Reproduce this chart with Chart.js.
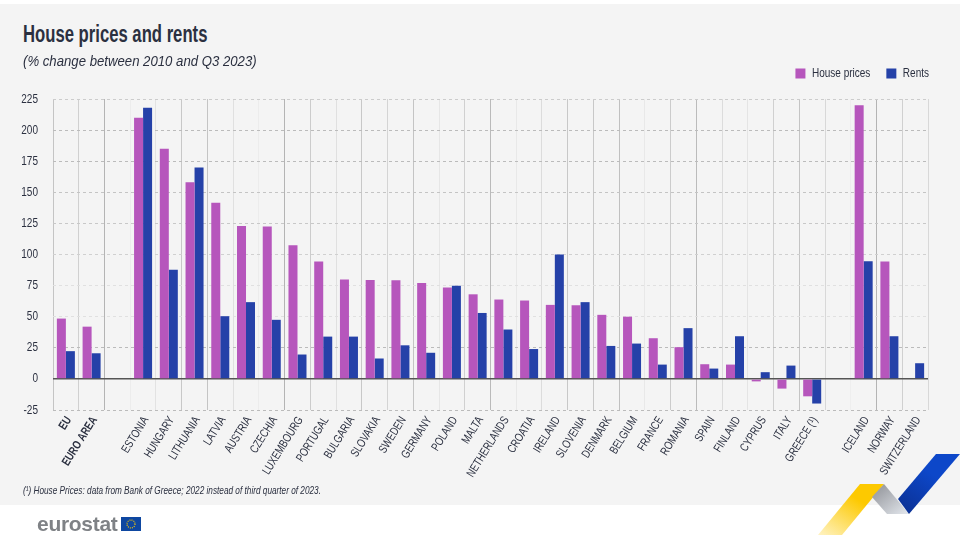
<!DOCTYPE html>
<html>
<head>
<meta charset="utf-8">
<style>
  html, body { margin: 0; padding: 0; background: #fff; }
  #page { position: relative; width: 973px; height: 535px; overflow: hidden; font-family: "Liberation Sans", sans-serif; color: #2b3040; }
  #panel { position: absolute; left: 0; top: 4px; width: 960px; height: 501px; background: #f4f4f4; }
  #chart-wrap { position: absolute; left: 0; top: 51px; width: 960px; height: 454px; }
  h1, #subtitle, #note { transform-origin: left center; white-space: nowrap; }
  h1 { position: absolute; left: 23px; top: 21px; margin: 0; font-size: 23px; font-weight: bold; transform: scaleX(0.725); }
  #subtitle { position: absolute; left: 23px; top: 52px; font-size: 15.5px; font-style: italic; transform: scaleX(0.85); }
  #note { position: absolute; left: 23px; top: 484px; font-size: 11.5px; font-style: italic; transform: scaleX(0.716); }
  #logo { position: absolute; left: 37px; top: 512px; font: bold 21px "Liberation Sans", sans-serif; color: #7f8286; letter-spacing: -0.3px; }
  #deco { position: absolute; left: 0; top: 0; }
</style>
</head>
<body>
<div id="page">
  <div id="panel"></div>
  <div id="chart-wrap"><canvas id="chart"></canvas></div>
  <h1>House prices and rents</h1>
  <div id="subtitle">(% change between 2010 and Q3 2023)</div>
  <div id="note">(¹) House Prices: data from Bank of Greece; 2022 instead of third quarter of 2023.</div>
  <div id="logo">eurostat</div>
  <svg id="deco" width="973" height="535">
    <defs>
      <linearGradient id="yellow" x1="0" y1="1" x2="0.6" y2="0.3"><stop offset="0" stop-color="#fff3c4"/><stop offset="1" stop-color="#fdc900"/></linearGradient>
      <linearGradient id="grey" x1="0" y1="0" x2="1" y2="1"><stop offset="0" stop-color="#8d8f94"/><stop offset="1" stop-color="#e4e8ee"/></linearGradient>
      <linearGradient id="blue" x1="0" y1="1" x2="0.5" y2="0.3"><stop offset="0" stop-color="#0b2f8f"/><stop offset="1" stop-color="#0d47c9"/></linearGradient>
    </defs>
    <polygon points="818,535 860,484 884,484 842,535" fill="url(#yellow)"/>
    <polygon points="872,497 884,484 909,514 887,514" fill="url(#grey)"/>
    <polygon points="898,499 936,454 960,454 909,514" fill="url(#blue)"/>
    <rect x="121" y="517" width="20" height="14" fill="#0e47a1"/>
    <circle cx="131" cy="524" r="4" fill="none" stroke="#fc0" stroke-width="1.2" stroke-dasharray="1 1.1"/>
  </svg>
</div>
<script src="https://cdn.jsdelivr.net/npm/chart.js@4/dist/chart.umd.min.js"></script>
<script>
const categories = ['EU', 'EURO AREA', '', 'ESTONIA', 'HUNGARY', 'LITHUANIA', 'LATVIA', 'AUSTRIA', 'CZECHIA',
    'LUXEMBOURG', 'PORTUGAL', 'BULGARIA', 'SLOVAKIA', 'SWEDEN', 'GERMANY', 'POLAND', 'MALTA', 'NETHERLANDS',
    'CROATIA', 'IRELAND', 'SLOVENIA', 'DENMARK', 'BELGIUM', 'FRANCE', 'ROMANIA', 'SPAIN', 'FINLAND', 'CYPRUS',
    'ITALY', 'GREECE (¹)', '', 'ICELAND', 'NORWAY', 'SWITZERLAND'];
const housePrices = [48.5, 42, null, 210, 185, 158, 141.5, 123, 122.5, 107.5, 94.4, 80, 79.6, 79.4, 77, 73.5, 68,
    63.8, 63, 59.5, 59.2, 51.5, 50, 32.7, 25.5, 11.8, 11.5, -2, -7.8, -14, null, 220, 94.4, null];
const rents = [22.3, 20.6, null, 218, 87.7, 170, 50.4, 61.7, 47.5, 19.6, 34, 34, 16.4, 27, 21, 74.8, 53, 39.7, 24,
    100, 61.7, 26.5, 28.4, 11.5, 40.8, 8.3, 34.3, 5.4, 10.7, -19.8, null, 94.6, 34.3, 12.6];
const yTicks = [225, 200, 175, 150, 125, 100, 75, 50, 25, 0, -25];

const fontFamily = '"Liberation Sans", sans-serif';

// vertical grid lines vary in strength in the original
const xGridColors = ['#c4c4c4', '#d0d0d0', '#b4b4b4', '#ececec', '#e2e2e2', '#c8c8c8', '#c4c4c4', '#e0e0e0', '#ececec',
    '#b4b4b4', '#cccccc', '#e0e0e0', '#c8c8c8', '#d4d4d4', '#c4c4c4', '#e6e6e6', '#d0d0d0', '#bababa', '#e8e8e8',
    '#dcdcdc', '#c8c8c8', '#c8c8c8', '#c0c0c0', '#e8e8e8', '#cccccc', '#bbbbbb', '#dcdcdc', '#e4e4e4', '#d0d0d0',
    '#c4c4c4', '#d8d8d8', '#eeeeee', '#b4b4b4', '#d0d0d0'];
const yGridColors = { 225: '#cccccc', 200: '#bbbbbb', 175: '#bbbbbb', 150: '#c4c4c4', 125: '#c8c8c8', 100: '#d0d0d0',
    75: '#e0e0e0', 50: '#e0e0e0', 25: '#bbbbbb', 0: '#555555', '-25': '#bbbbbb' };

// no condensed font is installed, so squeeze the canvas text horizontally
const textSqueeze = 0.77;
const canvas = document.getElementById('chart');
const ctx = canvas.getContext('2d');
const fillText = ctx.fillText.bind(ctx);
const measureText = ctx.measureText.bind(ctx);
ctx.fillText = (text, x, y) => {
    ctx.save();
    ctx.scale(textSqueeze, 1);
    fillText(text, x / textSqueeze, y);
    ctx.restore();
};
ctx.measureText = text => ({ width: measureText(text).width * textSqueeze });

new Chart(ctx, {
    type: 'bar',
    data: {
        labels: categories,
        datasets: [
            { label: 'House prices', data: housePrices, backgroundColor: '#b656bc' },
            { label: 'Rents', data: rents, backgroundColor: '#2541a8' }
        ]
    },
    options: {
        responsive: true,
        maintainAspectRatio: false,
        animation: false,
        categoryPercentage: 0.7,
        barPercentage: 1,
        layout: { padding: { left: 0, right: 32, top: 0, bottom: 0 } },
        plugins: {
            tooltip: { enabled: false },
            legend: {
                align: 'end',
                labels: { boxWidth: 10, boxHeight: 10, padding: 16, color: '#2b3040', font: { family: fontFamily, size: 13 } }
            }
        },
        scales: {
            x: {
                afterFit: s => { s.height = 95; },
                grid: {
                    offset: true,
                    drawTicks: false,
                    color: c => xGridColors[c.index] || '#d8d8d8'
                },
                border: { display: false },
                ticks: {
                    autoSkip: false,
                    minRotation: 58,
                    maxRotation: 58,
                    padding: 4,
                    labelOffset: 3,
                    color: '#2b3040',
                    font: c => ({ family: fontFamily, size: 12, weight: c.index < 2 ? 'bold' : 'normal' })
                }
            },
            y: {
                min: -25,
                max: 225,
                afterFit: s => { s.width = 53; },
                afterBuildTicks: s => { s.ticks = yTicks.map(v => ({ value: v })); },
                grid: {
                    drawTicks: false,
                    color: c => yGridColors[c.tick.value],
                    lineWidth: c => c.tick.value === 0 ? 1.5 : 1
                },
                border: { display: false, dash: c => c.tick && c.tick.value === 0 ? [] : [3, 3] },
                ticks: { padding: 15, color: '#2b3040', font: { family: fontFamily, size: 13 } }
            }
        }
    },
    plugins: [{
        id: 'legendPlacement',
        beforeLayout(chart) {
            // keep the plot top fixed and drop the legend's trailing gap
            const legend = chart.legend;
            const fit = legend.fit;
            const draw = legend.draw;
            legend.fit = function () {
                fit.call(this);
                this.height = 48;
            };
            legend.draw = function () {
                ctx.save();
                ctx.translate(17, 0);
                draw.call(this);
                ctx.restore();
            };
        }
    }]
});
</script>
</body>
</html>
